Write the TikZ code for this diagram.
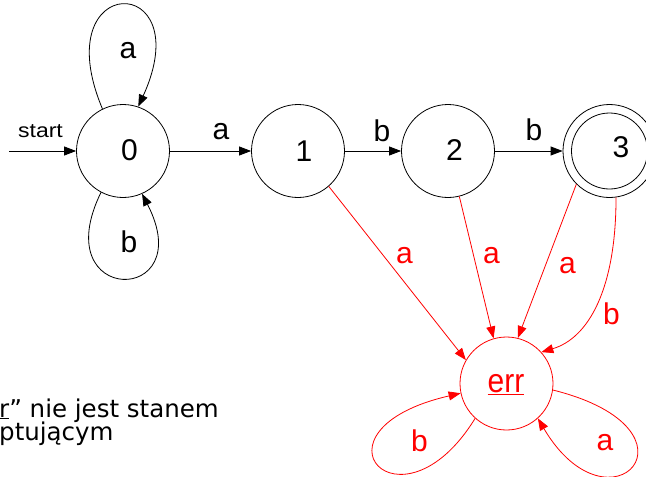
\documentclass[tikz,border=0pt]{standalone}
\usepackage{fontspec}
\setmainfont{Liberation Sans}
\newfontfamily\verd{DejaVu Sans}
\usetikzlibrary{arrows.meta,calc}
\begin{document}
\begin{tikzpicture}[x=1pt,y=-1pt,
  st/.style={circle,draw,minimum size=93pt,inner sep=0pt,line width=0.8pt},
  ar/.style={line width=0.8pt,-{Triangle[length=12pt,width=9pt]}},
  lb/.style={inner sep=0pt,font=\fontsize{30}{30}\selectfont},
  rl/.style={lb,text=red},
  nt/.style={inner sep=0pt,anchor=base west,font=\verd\fontsize{24.5}{24.5}\selectfont}]
\useasboundingbox (0,0) rectangle (646,477);
\begin{scope}
\clip (0,0) rectangle (646,477);
% states
\node[st] (n0) at (123,151) {};
\node[st] (n1) at (298,151) {};
\node[st] (n2) at (448,151) {};
\node[st] (n3) at (609.5,151) {};
\node[st,minimum size=76pt] (n3i) at (609.5,151) {};
\node[st,draw=red] (err) at (506.5,383.5) {};
% state names
\node[lb] (t0) at (129.5,150.5) {0};
\node[lb] (t1) at (304,151) {1};
\node[lb] (t2) at (454.5,150.5) {2};
\node[lb] (t3) at (621,147) {3};
\node[rl] (terr) at (506,385) {\scalebox{1}[1.12]{\underline{err}}};
% start
\coordinate (s0) at (9,151);
\node[inner sep=0pt,font=\fontsize{20}{20}\selectfont] (tstart) at (40.5,131) {\scalebox{1.15}[1]{start}};
\draw[ar] (s0) -- (n0);
% black transitions
\draw[ar] (n0) -- (n1);
\draw[ar] (n1) -- (n2);
\draw[ar] (n2) -- (n3);
\draw[ar] (n0.116) .. controls ($(n0.116)+(-58,-138)$) and ($(n0.71)+(62,-136)$) .. (n0.71);
\draw[ar] (n0.-118) .. controls ($(n0.-118)+(-56,114)$) and ($(n0.-66)+(58,112.5)$) .. (n0.-66);
\node[lb] (la00) at (128,51) {a};
\node[lb] (lb00) at (129,241.5) {b};
\node[lb] (la01) at (221,131.5) {a};
\node[lb] (lb12) at (382,131) {b};
\node[lb] (lb23) at (534,129.5) {b};
% red transitions
\draw[ar,red] (n1.-49) -- (err.150);
\draw[ar,red] (n2.-76) -- (err.106);
\draw[ar,red] (n3.-135) -- (err.76);
\draw[ar,red] (n3.-82) .. controls ($(n3.-82)+(0,92)$) and ($(err.42)+(47,-14)$) .. (err.42);
\draw[ar,red] (err.-132) .. controls ($(err.-132)+(-75,122)$) and ($(err.-168)+(-161,37)$) .. (err.-168);
\draw[ar,red] (err.-8) .. controls ($(err.-8)+(160,40)$) and ($(err.-48)+(72,122)$) .. (err.-48);
\node[rl] (la1e) at (404.5,256) {a};
\node[rl] (la2e) at (491.5,256) {a};
\node[rl] (la3e) at (567.5,266) {a};
\node[rl] (lb3e) at (611.5,314) {b};
\node[rl] (lbee) at (419.5,441) {b};
\node[rl] (laee) at (605,442.5) {a};
% note
\node[nt] (note1) at (-1,417) {\underline{r}” nie jest stanem};
\node[nt] (note2) at (-1,440) {ptującym};
\end{scope}
\end{tikzpicture}
\end{document}
